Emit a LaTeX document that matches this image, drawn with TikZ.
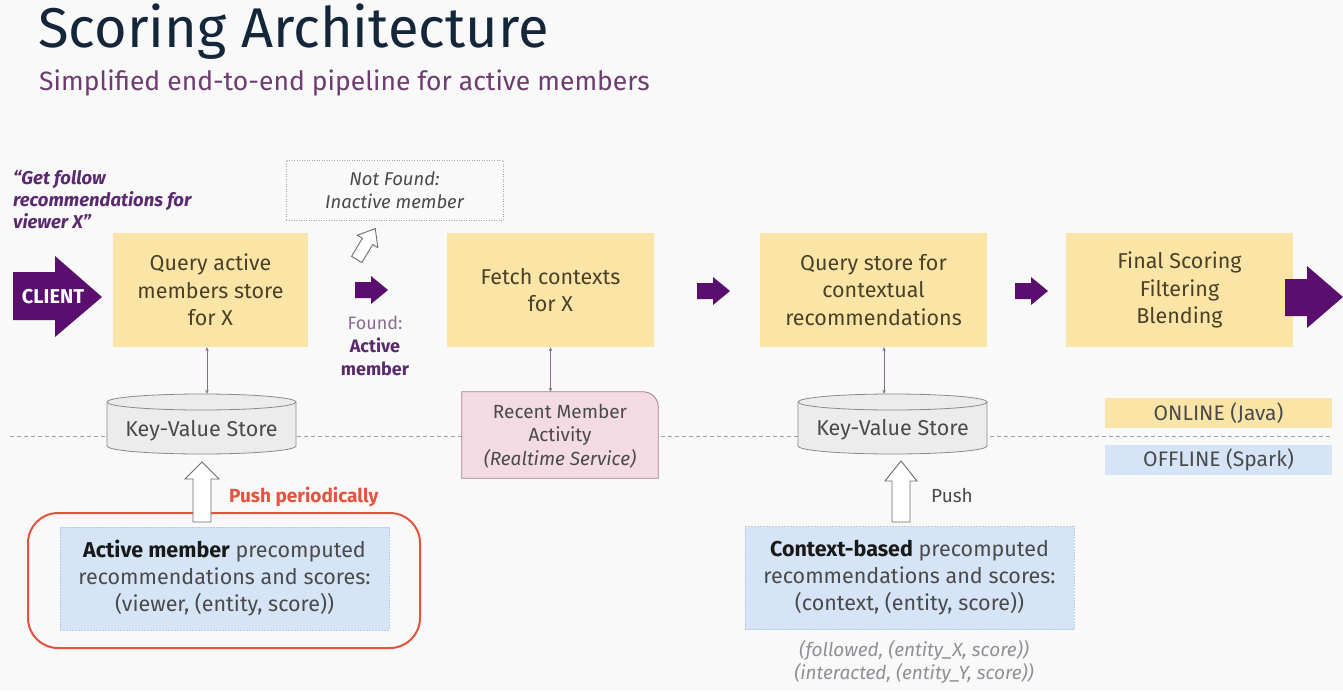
\documentclass[tikz,border=0pt]{standalone}
\usepackage{fontspec}
\setmainfont{Fira Sans}
\usetikzlibrary{arrows.meta,calc}
\definecolor{bg}{HTML}{F9F9F9}
\definecolor{yel}{HTML}{FBE5A6}
\definecolor{ytext}{HTML}{4A4128}
\definecolor{purp}{HTML}{5A0E6E}
\definecolor{qpurp}{HTML}{5B2A6E}
\definecolor{fpurp}{HTML}{8C6B93}
\definecolor{navy}{HTML}{14263A}
\definecolor{subp}{HTML}{6E3C70}
\definecolor{blu}{HTML}{D5E4F6}
\definecolor{bluborder}{HTML}{B8CCE6}
\definecolor{pink}{HTML}{F3DAE3}
\definecolor{pinkb}{HTML}{A57D8C}
\definecolor{cylf}{HTML}{ECECEC}
\definecolor{cylb}{HTML}{8A8A8A}
\definecolor{redc}{HTML}{E5533F}
\definecolor{gtext}{HTML}{4A4A4A}
\definecolor{itgrey}{HTML}{8F8F96}
\definecolor{sepline}{HTML}{9AA4AE}
\tikzset{
  stepbox/.style={fill=yel, text=ytext, align=center, inner sep=0pt,
    minimum height=114pt, font=\fontsize{21.5}{27.5}\selectfont},
  kvshape/.style={inner sep=0pt, minimum width=189pt, minimum height=60pt},
  kvtext/.style={text=gtext, font=\fontsize{21.5}{23}\selectfont},
  cylstyle/.style={fill=cylf, draw=cylb, line width=0.8pt},
  conn/.style={draw=fpurp, line width=0.8pt, {Stealth[length=4pt,width=3.5pt]}-{Stealth[length=4pt,width=3.5pt]}},
  purparrow/.style={fill=purp, draw=none},
  hollowarrow/.style={fill=white, draw=gtext!80, line width=0.9pt},
  bluebox/.style={fill=blu, draw=bluborder, dash pattern=on 2pt off 1pt, line width=0.6pt,
    text=gtext, align=center, minimum width=329pt, minimum height=103pt, inner sep=0pt,
    font=\fontsize{21.5}{27}\selectfont},
  legendbox/.style={text=gtext, minimum width=227pt, minimum height=30pt, inner sep=0pt,
    font=\fontsize{21}{22}\selectfont},
}
\begin{document}
\begin{tikzpicture}[x=1pt,y=-1pt]
\fill[bg] (0,0) rectangle (1343,691);
\useasboundingbox (0,0) rectangle (1343,691);

% title
\node[anchor=base west, text=navy, inner sep=0pt, font=\fontsize{56}{60}\selectfont] (title) at (38,47) {Scoring Architecture};
\node[anchor=base west, text=subp, inner sep=0pt, font=\fontsize{26.5}{30}\selectfont] (subtitle) at (39,90) {Simplified end-to-end pipeline for active members};

% separator
\coordinate (sepL) at (10,436);
\coordinate (sepR) at (1330,436);
\draw[sepline, line width=0.9pt, dash pattern=on 4pt off 3pt] (sepL) -- (sepR);

% quote
\node[anchor=west, align=left, text=qpurp, inner sep=0pt, font=\fontsize{18.5}{22}\selectfont\bfseries\itshape] (quote) at (13,200) {“Get follow\\recommendations for\\viewer X”};

% client arrow
\path[purparrow] (13,272) -- (55,272) -- (55,256) -- (102,297) -- (55,337) -- (55,320) -- (13,320) -- cycle;
\node[text=white, font=\fontsize{20}{22}\selectfont\bfseries, inner sep=0pt] (client) at (53,297) {CLIENT};

% step boxes
\node[stepbox, minimum width=195pt] (q1) at (210.5,290) {Query active\\members store\\for X};
\node[stepbox, minimum width=207pt] (q2) at (550.5,290) {Fetch contexts\\for X};
\node[stepbox, minimum width=227pt] (q3) at (873.5,290) {Query store for\\contextual\\recommendations};
\node[stepbox, minimum width=227pt] (q4) at (1179.5,290) {Final Scoring\\Filtering\\Blending};

% not found box
\node[draw=gray!70, dash pattern=on 1pt off 1.5pt, line width=0.8pt, minimum width=217pt, minimum height=60pt,
  align=center, inner sep=0pt, text=gtext, font=\fontsize{18.5}{23}\selectfont\itshape] (nf) at (394.5,190) {Not Found:\\Inactive member};
\draw[hollowarrow, rotate around={-31:(366,244)}] (366,226) -- (378,241) -- (372,241) -- (372,262) -- (360,262) -- (360,241) -- (354,241) -- cycle;

% small purple arrows
\path[purparrow] (355,282) -- (371,282) -- (371,276) -- (388,290) -- (371,304) -- (371,298) -- (355,298) -- cycle;
\path[purparrow] (697,283) -- (713,283) -- (713,277) -- (730,291) -- (713,305) -- (713,299) -- (697,299) -- cycle;
\path[purparrow] (1015,283) -- (1031,283) -- (1031,277) -- (1048,291) -- (1031,305) -- (1031,299) -- (1015,299) -- cycle;
% big output arrow
\path[purparrow] (1285,279) -- (1307,279) -- (1307,266) -- (1343,297) -- (1307,328) -- (1307,316) -- (1285,316) -- cycle;

% found text
\node[align=center, text=qpurp, inner sep=0pt, font=\fontsize{18}{23}\selectfont] (found) at (375,346) {{\color{fpurp}Found:}\\\textbf{Active}\\\textbf{member}};

% key value store 1
\path[cylstyle] (107,402) -- (107,446) arc[start angle=180,end angle=360,x radius=94.5pt,y radius=8pt] -- (296,402) arc[start angle=0,end angle=180,x radius=94.5pt,y radius=8pt] -- cycle;
\draw[cylb, line width=0.8pt] (107,402) arc[start angle=180,end angle=360,x radius=94.5pt,y radius=8pt];
\node[kvshape] (kv1) at (201.5,424) {};
\node[kvtext] (kv1t) at ([yshift=-7pt]kv1.center) {Key-Value Store};
\draw[conn] ([xshift=-3.5pt]q1.south) -- ([xshift=-3.5pt]q1.south |- kv1.north);

% key value store 2
\path[cylstyle] (798,402) -- (798,446) arc[start angle=180,end angle=360,x radius=94.5pt,y radius=8pt] -- (987,402) arc[start angle=0,end angle=180,x radius=94.5pt,y radius=8pt] -- cycle;
\draw[cylb, line width=0.8pt] (798,402) arc[start angle=180,end angle=360,x radius=94.5pt,y radius=8pt];
\node[kvshape] (kv2) at (892.5,424) {};
\node[kvtext] (kv2t) at ([yshift=-6pt]kv2.center) {Key-Value Store};
\draw[conn] ([xshift=10.5pt]q3.south) -- ([xshift=10.5pt]q3.south |- kv2.north);

% recent member activity
\node[minimum width=196pt, minimum height=86pt, inner sep=0pt] (rec) at (560,435) {};
\path[fill=pink, draw=pinkb, line width=0.8pt] (rec.south west) -- (rec.north west) -- ([xshift=-15pt]rec.north east) to[out=0,in=90] ([yshift=-15pt]rec.north east) -- (rec.south east) -- cycle;
\node[align=center, text=gtext, inner sep=0pt, font=\fontsize{19}{23.5}\selectfont] (rect) at ([yshift=-1pt]rec.center) {Recent Member\\Activity\\\textit{(Realtime Service)}};
\draw[conn] (q2.south) -- (q2.south |- rec.north);

% legend
\node[legendbox, fill=yel] (online) at (1218.5,413) {ONLINE (Java)};
\node[legendbox, fill=blu] (offline) at (1218.5,460) {OFFLINE (Spark)};

% offline blocks
\node[draw=redc, line width=2pt, rounded corners=30pt, minimum width=392pt, minimum height=135pt] (redbox) at (224,580.5) {};
\node[bluebox] (b1) at (224.5,578.5) {\textbf{\color{black!90}Active member} precomputed\\recommendations and scores:\\(viewer, (entity, score))};
\node[bluebox] (b2) at (909.5,578) {\textbf{\color{black!90}Context-based} precomputed\\recommendations and scores:\\(context, (entity, score))};

% push arrows
\coordinate (p1) at (202,522);
\coordinate (p1t) at (202,462);
\draw[hollowarrow] (p1t) -- ++(17,17) -- ++(-8,0) -- (p1 -| 211,0) -- (p1 -| 193,0) -- ++(0,-43) -- ++(-8,0) -- cycle;
\coordinate (p2) at (901,522);
\coordinate (p2t) at (901,461);
\draw[hollowarrow] (p2t) -- ++(16,20) -- ++(-7,0) -- (p2 -| 910,0) -- (p2 -| 892,0) -- ++(0,-41) -- ++(-7,0) -- cycle;

\node[anchor=west, text=redc, inner sep=0pt, font=\fontsize{19}{20}\selectfont\bfseries] (pp) at (229,497) {Push periodically};
\node[anchor=west, text=gtext, inner sep=0pt, font=\fontsize{19}{20}\selectfont] (push) at (931,495) {Push};

\node[align=center, text=itgrey, inner sep=0pt, font=\fontsize{19}{23}\selectfont\itshape] (ex) at (914,662) {(followed, (entity\_X, score))\\(interacted, (entity\_Y, score))};
\end{tikzpicture}
\end{document}
